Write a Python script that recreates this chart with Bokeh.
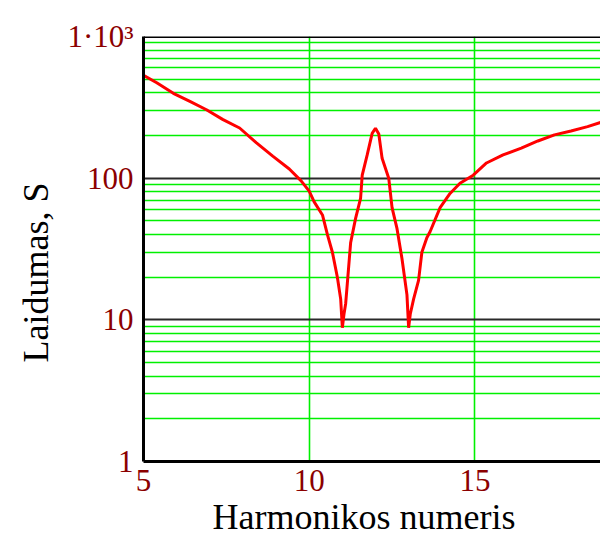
import numpy as np
from bokeh.plotting import figure
from bokeh.models import Range1d, FixedTicker, Span, Title
from bokeh.embed import file_html
from bokeh.resources import INLINE

# ---- data ----
harmonic = [5.0, 5.4, 5.9, 6.4, 6.9, 7.4, 7.9, 8.4, 8.9, 9.4, 9.75, 10.0,
            10.15, 10.4, 10.55, 10.7, 10.85, 10.95, 11.0, 11.05, 11.1, 11.15,
            11.25, 11.4, 11.55, 11.6, 11.75, 11.9, 12.0, 12.1, 12.2, 12.4,
            12.5, 12.65, 12.8, 12.95, 13.0, 13.05, 13.15, 13.3, 13.4, 13.55,
            13.65, 13.95, 14.25, 14.55, 14.95, 15.35, 15.85, 16.4, 16.9, 17.4,
            17.9, 18.4, 18.8]
conductance = [533, 471, 397, 348, 304, 259, 226, 178, 143, 116, 96, 81,
               68, 55, 40, 30, 20, 14, 8.8, 11, 13, 18,
               35, 52, 72, 105, 146, 207, 225, 205, 138, 100,
               62, 44, 27, 15, 8.8, 11, 14, 19, 30, 38,
               42, 62, 78, 92, 105, 128, 146, 163, 183, 202,
               215, 231, 248]

x_ticks = [5, 10, 15]
x_tick_labels = ["5", "10", "15"]
y_ticks = [1, 10, 100, 1000]
y_tick_labels = ["1", "10", "100", "1·10³"]
y_major_grid = [10, 100, 1000]
y_minor_grid = [2, 3, 4, 5, 6, 7, 8, 9,
                20, 30, 40, 50, 60, 70, 80, 90,
                200, 300, 400, 500, 600, 700, 800, 900]

x_title = "Harmonikos numeris"
y_title = "Laidumas, S"

SERIF = "Liberation Serif"
TICK_COLOR = "#8B0000"
GREEN = "#00f000"

p = figure(width=600, height=548,
           x_range=Range1d(5, 18.79), y_range=Range1d(1, 1000),
           y_axis_type="log", output_backend="svg", toolbar_location=None,
           min_border_left=143, min_border_right=0,
           min_border_top=36, min_border_bottom=87)
p.outline_line_color = None
p.background_fill_color = "white"
p.border_fill_color = "white"

# grids
p.xgrid.ticker = FixedTicker(ticks=x_ticks)
p.xgrid.grid_line_color = GREEN
p.xgrid.grid_line_width = 1.6
p.ygrid.ticker = FixedTicker(ticks=y_major_grid, minor_ticks=y_minor_grid)
p.ygrid.grid_line_color = "#2a2a2a"
p.ygrid.grid_line_width = 2
p.ygrid.minor_grid_line_color = GREEN
p.ygrid.minor_grid_line_width = 1.6

# axes
for ax in (p.xaxis[0], p.yaxis[0]):
    ax.axis_line_color = "black"
    ax.axis_line_width = 3
    ax.major_tick_line_color = None
    ax.minor_tick_line_color = None
    ax.major_tick_out = 0
    ax.major_tick_in = 0
    ax.minor_tick_out = 0
    ax.minor_tick_in = 0
    ax.major_label_text_font = SERIF
    ax.major_label_text_font_size = "31px"
    ax.major_label_text_color = TICK_COLOR

p.xaxis.ticker = FixedTicker(ticks=x_ticks)
p.xaxis.major_label_overrides = dict(zip(x_ticks, x_tick_labels))
p.xaxis.major_label_standoff = 8
p.yaxis.ticker = FixedTicker(ticks=y_ticks)
p.yaxis.major_label_overrides = dict(zip(y_ticks, y_tick_labels))
p.yaxis.major_label_standoff = 10

# top border
p.add_layout(Span(location=1000, dimension="width", line_color="black", line_width=3))

# curve
p.line(harmonic, conductance, line_color="#ff0000", line_width=3)

# axis titles
p.add_layout(Title(text=x_title, align="left", offset=69, standoff=3,
                   vertical_align="bottom",
                   text_font=SERIF, text_font_size="36px", text_font_style="normal",
                   text_color="black"), "below")
p.add_layout(Title(text=y_title, align="left", offset=99, standoff=13,
                   vertical_align="top",
                   text_font=SERIF, text_font_size="36px", text_font_style="normal",
                   text_color="black"), "left")

open("out.html", "w").write(file_html(p, INLINE))
